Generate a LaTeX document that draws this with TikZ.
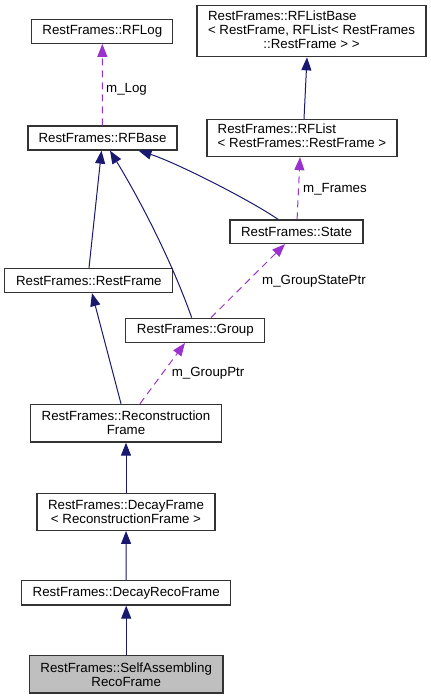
\documentclass[tikz,border=0pt]{standalone}
\usepackage{fontspec}
\setmainfont{Liberation Sans}
\usetikzlibrary{arrows.meta}
\definecolor{inhblue}{HTML}{191970}
\definecolor{usepurple}{HTML}{9A32CD}
\definecolor{selfgray}{HTML}{BFBFBF}

\begin{document}
\begin{tikzpicture}[x=1pt,y=-1pt,
  cls/.style={draw=black!80,line width=1.3pt,fill=white,inner sep=0pt,align=center,
    font=\fontsize{13.3}{14}\selectfont},
  inh/.style={draw=inhblue,line width=1pt,-{Triangle[length=13pt,width=10pt]}},
  usage/.style={draw=usepurple,line width=1pt,dash pattern=on 7pt off 5pt,
    -{Triangle[length=13pt,width=10pt]}},
  lbl/.style={anchor=west,inner sep=0pt,font=\fontsize{13.3}{14}\selectfont}]
  \useasboundingbox (0,0) rectangle (431,699);

  % classes
  \node[cls,minimum width=141,minimum height=24] (rflog) at (102.3,31.3) {RestFrames::RFLog};
  \node[cls,minimum width=229,minimum height=51] (rflistbase) at (311.5,31.2)
    {\begin{tabular}{@{}l@{}}RestFrames::RFListBase\\< RestFrame, RFList< RestFrames\\
     \multicolumn{1}{@{}c@{}}{::RestFrame > >}\end{tabular}};
  \node[cls,minimum width=149,minimum height=24] (rfbase) at (102.5,138) {RestFrames::RFBase};
  \node[cls,minimum width=190,minimum height=37] (rflist) at (302,138)
    {\begin{tabular}{@{}l@{}}RestFrames::RFList\\< RestFrames::RestFrame >\end{tabular}};
  \node[cls,minimum width=133,minimum height=23.5] (state) at (296.5,231.7) {RestFrames::State};
  \node[cls,minimum width=168,minimum height=24] (restframe) at (88.8,280.5) {RestFrames::RestFrame};
  \node[cls,minimum width=139,minimum height=24] (group) at (195.3,330.3) {RestFrames::Group};
  \node[cls,minimum width=190.6,minimum height=37.7] (recon) at (126,423.2)
    {RestFrames::Reconstruction\\Frame};
  \node[cls,minimum width=178,minimum height=37] (decay) at (126,511.8)
    {RestFrames::DecayFrame\\< ReconstructionFrame >};
  \node[cls,minimum width=209,minimum height=24.3] (decayreco) at (126.2,592.8)
    {RestFrames::DecayRecoFrame};
  \node[cls,fill=selfgray,minimum width=193.7,minimum height=37.3] (self) at (126.2,674.3)
    {RestFrames::SelfAssembling\\RecoFrame};

  % inheritance
  \draw[inh] ([xshift=2]rflist.north) -- ([xshift=-4.5]rflistbase.south);
  \draw[inh] ([xshift=0.2]restframe.north) -- ([xshift=-1]rfbase.south);
  \draw[inh] ([xshift=-3.6]group.north) .. controls (172,262) and (141,201.6) .. ([xshift=7.5]rfbase.south);
  \draw[inh] ([xshift=-18.5]state.north) .. controls (250,200) and (175,162) .. ([xshift=36]rfbase.south);
  \draw[inh] ([xshift=-5]recon.north) -- ([xshift=3.2]restframe.south);
  \foreach \a/\b in {decay/recon,decayreco/decay,self/decayreco}
    \draw[inh] (\a) -- (\b);

  % members
  \draw[usage] (rfbase) -- (rflog);
  \draw[usage] (state) -- ([xshift=-2]rflist.south);
  \draw[usage] ([xshift=15.7]group.north) -- ([xshift=-11.5]state.south);
  \draw[usage] ([xshift=14]recon.north) -- ([xshift=-10.3]group.south);
  \node[lbl] (mlog) at (106,89) {m\_Log};
  \node[lbl] (mframes) at (303,189) {m\_Frames};
  \node[lbl] (mstate) at (262,281) {m\_GroupStatePtr};
  \node[lbl] (mgroup) at (171.7,373.5) {m\_GroupPtr};
\end{tikzpicture}
\end{document}
